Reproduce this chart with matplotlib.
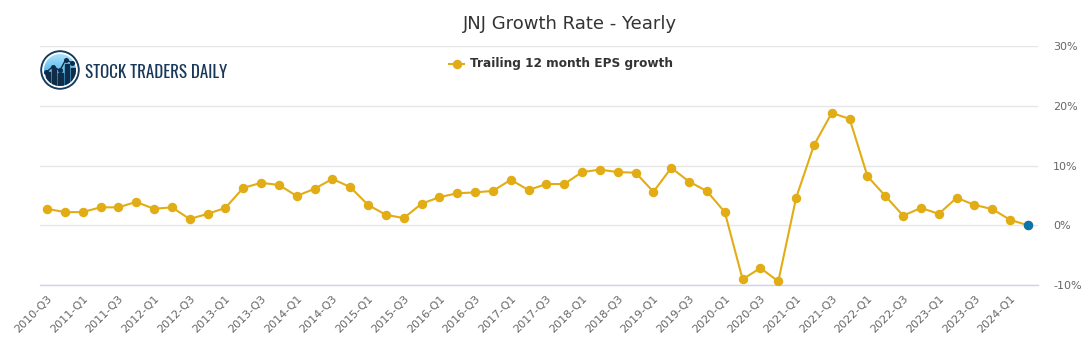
import matplotlib
matplotlib.use("Agg")
import matplotlib.pyplot as plt
from matplotlib.patches import Circle, Rectangle
from matplotlib.colors import LinearSegmentedColormap
import numpy as np

quarters = []
for yr in range(2010, 2025):
    for q in range(1, 5):
        if (yr == 2010 and q < 3) or (yr == 2024 and q > 2):
            continue
        quarters.append(f"{yr}-Q{q}")

eps_growth = [2.75, 2.2, 2.2, 3.0, 3.0, 3.9, 2.75, 3.0, 1.05, 1.9,
              2.9, 6.25, 7.1, 6.75, 4.9, 6.1, 7.75, 6.4, 3.4, 1.75,
              1.2, 3.6, 4.7, 5.35, 5.5, 5.75, 7.6, 5.9, 6.9, 6.9,
              8.9, 9.3, 8.9, 8.8, 5.6, 9.6, 7.3, 5.7, 2.2, -9.05,
              -7.15, -9.4, 4.6, 13.4, 18.8, 17.8, 8.2, 4.9, 1.6, 2.9,
              1.9, 4.6, 3.4, 2.7, 0.9, 0.0]

yticks = [-10, 0, 10, 20, 30]
ytick_labels = ["-10%", "0%", "10%", "20%", "30%"]
title = "JNJ Growth Rate - Yearly"
series_name = "Trailing 12 month EPS growth"
brand = "STOCK TRADERS DAILY"

# logo decoration values
logo_bar_x = [-0.62, -0.3, 0.03, 0.36, 0.68]
logo_bar_top = [-0.08, 0.1, -0.15, 0.3, 0.12]
logo_line_x = [-0.72, -0.38, 0.0, 0.3, 0.62]
logo_line_y = [-0.12, 0.18, -0.02, 0.55, 0.38]

fig = plt.figure(figsize=(10.91, 3.5), dpi=100)
W, H = 1091, 350
ax = fig.add_axes([40 / W, 1 - 285 / H, (1038 - 40) / W, (285 - 46) / H])

x = np.arange(len(quarters))
gold = "#e2ad14"
ax.plot(x, eps_growth, color=gold, lw=1.5, marker="o", ms=5.8, zorder=3)
ax.plot(x[-1], eps_growth[-1], marker="o", ms=5.8, color="#0b74ac", zorder=4, ls="none")

ax.set_ylim(-10, 30)
ax.set_xlim(-7 / 17.836, len(quarters) - 1 + 10 / 17.836)
ax.set_yticks(yticks)
ax.set_yticklabels(ytick_labels)
ax.yaxis.tick_right()
ax.tick_params(axis="y", length=0, pad=11, labelsize=8, labelcolor="#666666")
for lab in ax.get_yticklabels():
    lab.set_horizontalalignment("left")
ax.set_xticks(x[::2])
ax.set_xticklabels(quarters[::2], rotation=45, ha="right", rotation_mode="anchor")
ax.tick_params(axis="x", length=0, pad=6, labelsize=8, labelcolor="#666666")
ax.grid(axis="y", color="#e6e6e6", lw=1)
ax.set_axisbelow(True)
for s in ("top", "left", "right"):
    ax.spines[s].set_visible(False)
ax.spines["bottom"].set_color("#ccd6eb")
ax.spines["bottom"].set_linewidth(1)

fig.text(570 / W, 1 - 24 / H, title, ha="center", va="center", fontsize=13, color="#333333")

# legend
lx0, lx1, ly = 449 / W, 464 / W, 1 - 64 / H
fig.lines.append(plt.Line2D([lx0, lx1], [ly, ly], transform=fig.transFigure, color=gold, lw=1.5))
fig.lines.append(plt.Line2D([(lx0 + lx1) / 2], [ly], transform=fig.transFigure, color=gold, marker="o", ms=5.8))
fig.text(470 / W, ly, series_name, ha="left", va="center", fontsize=8.7, fontweight="bold", color="#333333")

# logo
lax = fig.add_axes([40 / W, 1 - 90 / H, 40 / W, 40 / H])
lax.set_xlim(-1.05, 1.05)
lax.set_ylim(-1.05, 1.05)
lax.set_aspect("equal")
lax.axis("off")
navy = "#173a5c"
lax.add_patch(Circle((0, 0), 1.0, color=navy, zorder=1))
lax.add_patch(Circle((0, 0), 0.9, color="white", zorder=2))
inner = Circle((0, 0), 0.84, transform=lax.transData)
grad = np.linspace(0, 1, 100).reshape(-1, 1)
cmap = LinearSegmentedColormap.from_list("lb", ["#b3e8fc", "#62bdf0", "#2f8fd2"])
im = lax.imshow(grad, extent=(-0.9, 0.9, -0.9, 0.9), origin="upper", cmap=cmap, zorder=3, aspect="auto")
im.set_clip_path(inner)
for bx, bt in zip(logo_bar_x, logo_bar_top):
    r = Rectangle((bx - 0.11, -1.0), 0.22, bt + 1.0, color="#0f2c48", zorder=4)
    lax.add_patch(r)
    r.set_clip_path(inner)
lax.plot(logo_line_x, logo_line_y, color="#0f2c48", lw=1.0, marker="o", ms=2.6, zorder=5)

fig.text(85 / W, 1 - 72 / H, brand, ha="left", va="center", fontsize=12.2, color="#17385a", family="Oswald")

fig.savefig("out.png", dpi=100)
